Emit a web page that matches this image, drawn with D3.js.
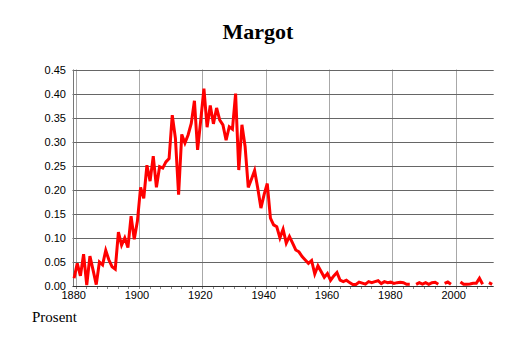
<!DOCTYPE html>
<html>
<head>
<meta charset="utf-8">
<script src="https://cdn.jsdelivr.net/npm/d3@7"></script>
<style>
  body { margin: 0; background: #fff; }
  svg { display: block; }
</style>
</head>
<body>
<div id="chart"></div>
<script>
// DATA ////////////////////////////////////////////////////////////////////////
const title = "Margot";
const yLabel = "Prosent";
const firstYear = 1879;
const lastYear = 2011;
const xTicks = [1880, 1900, 1920, 1940, 1960, 1980, 2000];
const yTicks = [0, 0.05, 0.10, 0.15, 0.20, 0.25, 0.30, 0.35, 0.40, 0.45];

// percent per year, null = no data
const values = [
  0.016, 0.047, 0.021, 0.066, 0.002, 0.062, 0.033, 0.003, 0.050, 0.044, // 1879-1888
  0.074, 0.054, 0.040, 0.035, 0.112, 0.085, 0.100, 0.080, 0.145, 0.097, // 1889-1898
  0.135, 0.205, 0.182, 0.251, 0.218, 0.270, 0.205, 0.248, 0.245, 0.258, // 1899-1908
  0.265, 0.355, 0.307, 0.190, 0.315, 0.297, 0.314, 0.338, 0.385, 0.283, // 1909-1918
  0.345, 0.410, 0.330, 0.375, 0.337, 0.370, 0.345, 0.335, 0.303, 0.331, // 1919-1928
  0.326, 0.400, 0.241, 0.335, 0.290, 0.205, 0.222, 0.240, 0.203, 0.162, // 1929-1938
  0.190, 0.213, 0.141, 0.127, 0.123, 0.100, 0.118, 0.089, 0.103, 0.089, // 1939-1948
  0.075, 0.071, 0.061, 0.054, 0.047, 0.053, 0.025, 0.042, 0.030, 0.018, // 1949-1958
  0.026, 0.012, 0.021, 0.028, 0.012, 0.009, 0.012, 0.007, 0.003, 0.003, // 1959-1968
  0.008, 0.006, 0.004, 0.009, 0.007, 0.009, 0.011, 0.005, 0.009, 0.007, // 1969-1978
  0.008, 0.0055, 0.007, 0.0076, 0.007, 0.0035, 0.0035, null, 0.0035, 0.007, // 1979-1988
  0.004, 0.007, 0.0035, 0.007, 0.0076, 0.0035, null, 0.0055, 0.0083, 0.0035, // 1989-1998
  null, null, 0.0083, 0.0035, 0.0035, 0.004, 0.0055, 0.0055, 0.016, 0.0035, // 1999-2008
  null, 0.007, 0.0035                                                    // 2009-2011
];

const years = d3.range(firstYear, lastYear + 1);
const data = years.map((yr, i) => ({ year: yr, value: values[i] }));

// CHART ///////////////////////////////////////////////////////////////////////
const w = 514, h = 343;
const plotLeft = 72.5, plotRight = 493.7, plotTop = 69.5, plotBottom = 286;

const svg = d3.select("#chart").append("svg")
  .attr("width", w)
  .attr("height", h);

const x = d3.scaleLinear().domain([1879, 2012]).range([plotLeft, plotRight]);
const y = d3.scaleLinear().domain([0, 0.45]).range([plotBottom, plotTop]);

// vertical grid
svg.append("g")
  .selectAll("line")
  .data(xTicks)
  .enter().append("line")
  .attr("x1", d => Math.round(x(d)) + 0.5)
  .attr("x2", d => Math.round(x(d)) + 0.5)
  .attr("y1", plotTop)
  .attr("y2", plotBottom)
  .attr("stroke", "#a8a8a8")
  .attr("stroke-width", 1);

// minor ticks along the bottom
const minor = d3.range(1880, 2012, 20 / 6);
svg.append("g")
  .selectAll("line")
  .data(minor)
  .enter().append("line")
  .attr("x1", d => Math.round(x(d)) + 0.5)
  .attr("x2", d => Math.round(x(d)) + 0.5)
  .attr("y1", plotBottom)
  .attr("y2", plotBottom + 3)
  .attr("stroke", "#888")
  .attr("stroke-width", 1);

// horizontal grid
svg.append("g")
  .selectAll("line")
  .data(yTicks)
  .enter().append("line")
  .attr("x1", plotLeft)
  .attr("x2", plotRight)
  .attr("y1", d => Math.round(y(d)) + 0.5)
  .attr("y2", d => Math.round(y(d)) + 0.5)
  .attr("stroke", d => d === 0 ? "#333" : "#666")
  .attr("stroke-width", 1);

// left axis line
svg.append("line")
  .attr("x1", Math.round(plotLeft) + 0.5)
  .attr("x2", Math.round(plotLeft) + 0.5)
  .attr("y1", plotTop)
  .attr("y2", plotBottom)
  .attr("stroke", "#777");

// y tick labels
svg.append("g")
  .selectAll("text")
  .data(yTicks)
  .enter().append("text")
  .attr("x", 66)
  .attr("y", d => y(d) + 4)
  .attr("text-anchor", "end")
  .attr("font-family", "'Liberation Sans', Arial, sans-serif")
  .attr("font-size", "11px")
  .attr("fill", "#000")
  .text(d => d.toFixed(2));

// x tick labels
svg.append("g")
  .selectAll("text")
  .data(xTicks)
  .enter().append("text")
  .attr("x", d => x(d) - 2)
  .attr("y", 299)
  .attr("text-anchor", "middle")
  .attr("font-family", "'Liberation Sans', Arial, sans-serif")
  .attr("font-size", "11px")
  .attr("fill", "#000")
  .text(d => d);

// the line, year values sit in the middle of each year
const line = d3.line()
  .defined(d => d.value !== null)
  .x(d => x(d.year + 0.5))
  .y(d => y(d.value));

svg.append("path")
  .datum(data)
  .attr("d", line)
  .attr("fill", "none")
  .attr("stroke", "#ff0000")
  .attr("stroke-width", 3)
  .attr("stroke-linejoin", "miter");

// title
svg.append("text")
  .attr("x", 258)
  .attr("y", 39)
  .attr("text-anchor", "middle")
  .attr("font-family", "'Liberation Serif', 'Times New Roman', serif")
  .attr("font-weight", "bold")
  .attr("font-size", "22px")
  .text(title);

// unit label
svg.append("text")
  .attr("x", 32)
  .attr("y", 322)
  .attr("font-family", "'Liberation Serif', 'Times New Roman', serif")
  .attr("font-size", "15px")
  .text(yLabel);
</script>
</body>
</html>
